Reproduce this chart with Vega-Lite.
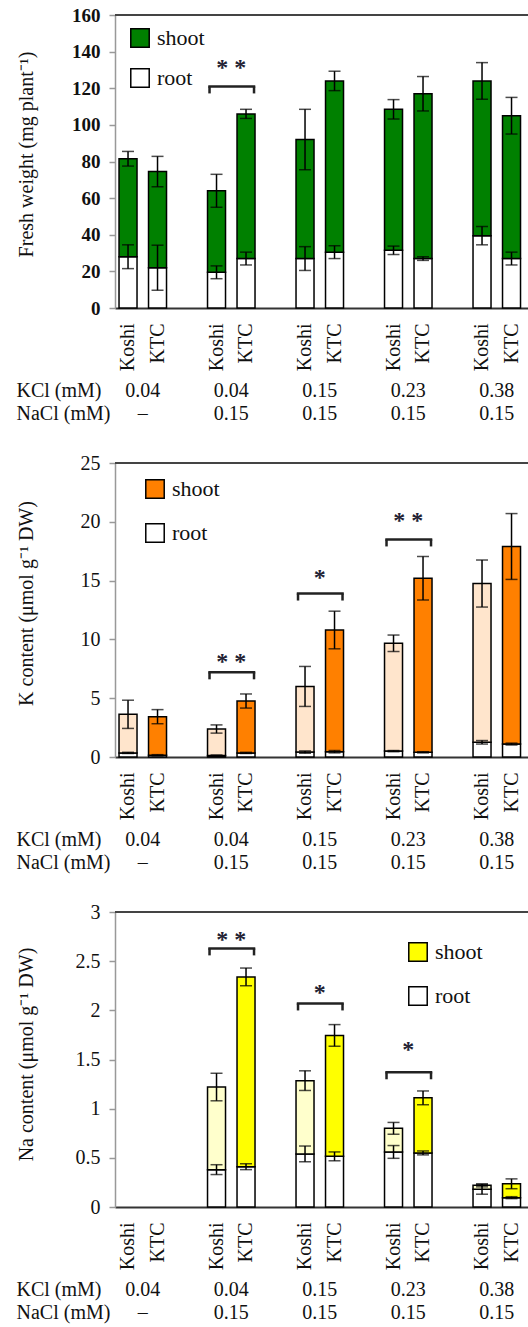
{
  "$schema": "https://vega.github.io/schema/vega-lite/v6.json",
  "padding": {"left": 15, "top": 5, "right": 0, "bottom": 0},
  "background": "white",
  "datasets": {
    "bars": [
      {"p": "fw", "slot": "K1", "cult": "Koshi", "part": "root", "lo": 0, "hi": 28, "err": 6.5},
      {"p": "fw", "slot": "K1", "cult": "Koshi", "part": "shoot", "lo": 28, "hi": 81.5, "err": 4},
      {"p": "fw", "slot": "T1", "cult": "KTC", "part": "root", "lo": 0, "hi": 22, "err": 12.3},
      {"p": "fw", "slot": "T1", "cult": "KTC", "part": "shoot", "lo": 22, "hi": 74.5, "err": 8.3},
      {"p": "fw", "slot": "K2", "cult": "Koshi", "part": "root", "lo": 0, "hi": 19.5, "err": 3.5},
      {"p": "fw", "slot": "K2", "cult": "Koshi", "part": "shoot", "lo": 19.5, "hi": 64, "err": 9},
      {"p": "fw", "slot": "T2", "cult": "KTC", "part": "root", "lo": 0, "hi": 27, "err": 3.5},
      {"p": "fw", "slot": "T2", "cult": "KTC", "part": "shoot", "lo": 27, "hi": 106, "err": 2.5},
      {"p": "fw", "slot": "K3", "cult": "Koshi", "part": "root", "lo": 0, "hi": 27, "err": 6.5},
      {"p": "fw", "slot": "K3", "cult": "Koshi", "part": "shoot", "lo": 27, "hi": 92, "err": 16.5},
      {"p": "fw", "slot": "T3", "cult": "KTC", "part": "root", "lo": 0, "hi": 30.5, "err": 3.5},
      {"p": "fw", "slot": "T3", "cult": "KTC", "part": "shoot", "lo": 30.5, "hi": 124, "err": 5.3},
      {"p": "fw", "slot": "K4", "cult": "Koshi", "part": "root", "lo": 0, "hi": 31.5, "err": 2.3},
      {"p": "fw", "slot": "K4", "cult": "Koshi", "part": "shoot", "lo": 31.5, "hi": 108.5, "err": 5.3},
      {"p": "fw", "slot": "T4", "cult": "KTC", "part": "root", "lo": 0, "hi": 27, "err": 1},
      {"p": "fw", "slot": "T4", "cult": "KTC", "part": "shoot", "lo": 27, "hi": 117, "err": 9.4},
      {"p": "fw", "slot": "K5", "cult": "Koshi", "part": "root", "lo": 0, "hi": 39.5, "err": 5},
      {"p": "fw", "slot": "K5", "cult": "Koshi", "part": "shoot", "lo": 39.5, "hi": 124, "err": 10},
      {"p": "fw", "slot": "T5", "cult": "KTC", "part": "root", "lo": 0, "hi": 27, "err": 3.5},
      {"p": "fw", "slot": "T5", "cult": "KTC", "part": "shoot", "lo": 27, "hi": 105, "err": 10},

      {"p": "K", "slot": "K1", "cult": "Koshi", "part": "root", "lo": 0, "hi": 0.35, "err": 0.05},
      {"p": "K", "slot": "K1", "cult": "Koshi", "part": "shoot", "lo": 0.35, "hi": 3.63, "err": 1.2},
      {"p": "K", "slot": "T1", "cult": "KTC", "part": "root", "lo": 0, "hi": 0.15, "err": 0.05},
      {"p": "K", "slot": "T1", "cult": "KTC", "part": "shoot", "lo": 0.15, "hi": 3.43, "err": 0.6},
      {"p": "K", "slot": "K2", "cult": "Koshi", "part": "root", "lo": 0, "hi": 0.12, "err": 0.05},
      {"p": "K", "slot": "K2", "cult": "Koshi", "part": "shoot", "lo": 0.12, "hi": 2.38, "err": 0.35},
      {"p": "K", "slot": "T2", "cult": "KTC", "part": "root", "lo": 0, "hi": 0.35, "err": 0.05},
      {"p": "K", "slot": "T2", "cult": "KTC", "part": "shoot", "lo": 0.35, "hi": 4.76, "err": 0.6},
      {"p": "K", "slot": "K3", "cult": "Koshi", "part": "root", "lo": 0, "hi": 0.42, "err": 0.1},
      {"p": "K", "slot": "K3", "cult": "Koshi", "part": "shoot", "lo": 0.42, "hi": 6.0, "err": 1.7},
      {"p": "K", "slot": "T3", "cult": "KTC", "part": "root", "lo": 0, "hi": 0.45, "err": 0.1},
      {"p": "K", "slot": "T3", "cult": "KTC", "part": "shoot", "lo": 0.45, "hi": 10.8, "err": 1.6},
      {"p": "K", "slot": "K4", "cult": "Koshi", "part": "root", "lo": 0, "hi": 0.5, "err": 0.05},
      {"p": "K", "slot": "K4", "cult": "Koshi", "part": "shoot", "lo": 0.5, "hi": 9.67, "err": 0.7},
      {"p": "K", "slot": "T4", "cult": "KTC", "part": "root", "lo": 0, "hi": 0.4, "err": 0.05},
      {"p": "K", "slot": "T4", "cult": "KTC", "part": "shoot", "lo": 0.4, "hi": 15.2, "err": 1.85},
      {"p": "K", "slot": "K5", "cult": "Koshi", "part": "root", "lo": 0, "hi": 1.25, "err": 0.15},
      {"p": "K", "slot": "K5", "cult": "Koshi", "part": "shoot", "lo": 1.25, "hi": 14.75, "err": 2.0},
      {"p": "K", "slot": "T5", "cult": "KTC", "part": "root", "lo": 0, "hi": 1.1, "err": 0.08},
      {"p": "K", "slot": "T5", "cult": "KTC", "part": "shoot", "lo": 1.1, "hi": 17.9, "err": 2.8},

      {"p": "Na", "slot": "K2", "cult": "Koshi", "part": "root", "lo": 0, "hi": 0.38, "err": 0.05},
      {"p": "Na", "slot": "K2", "cult": "Koshi", "part": "shoot", "lo": 0.38, "hi": 1.22, "err": 0.14},
      {"p": "Na", "slot": "T2", "cult": "KTC", "part": "root", "lo": 0, "hi": 0.41, "err": 0.03},
      {"p": "Na", "slot": "T2", "cult": "KTC", "part": "shoot", "lo": 0.41, "hi": 2.34, "err": 0.09},
      {"p": "Na", "slot": "K3", "cult": "Koshi", "part": "root", "lo": 0, "hi": 0.54, "err": 0.08},
      {"p": "Na", "slot": "K3", "cult": "Koshi", "part": "shoot", "lo": 0.54, "hi": 1.285, "err": 0.1},
      {"p": "Na", "slot": "T3", "cult": "KTC", "part": "root", "lo": 0, "hi": 0.515, "err": 0.045},
      {"p": "Na", "slot": "T3", "cult": "KTC", "part": "shoot", "lo": 0.515, "hi": 1.745, "err": 0.11},
      {"p": "Na", "slot": "K4", "cult": "Koshi", "part": "root", "lo": 0, "hi": 0.56, "err": 0.065},
      {"p": "Na", "slot": "K4", "cult": "Koshi", "part": "shoot", "lo": 0.56, "hi": 0.8, "err": 0.06},
      {"p": "Na", "slot": "T4", "cult": "KTC", "part": "root", "lo": 0, "hi": 0.55, "err": 0.02},
      {"p": "Na", "slot": "T4", "cult": "KTC", "part": "shoot", "lo": 0.55, "hi": 1.11, "err": 0.07},
      {"p": "Na", "slot": "K5", "cult": "Koshi", "part": "root", "lo": 0, "hi": 0.18, "err": 0.05},
      {"p": "Na", "slot": "K5", "cult": "Koshi", "part": "shoot", "lo": 0.18, "hi": 0.22, "err": 0.015},
      {"p": "Na", "slot": "T5", "cult": "KTC", "part": "root", "lo": 0, "hi": 0.095, "err": 0.01},
      {"p": "Na", "slot": "T5", "cult": "KTC", "part": "shoot", "lo": 0.095, "hi": 0.236, "err": 0.05}
    ],
    "sig": [
      {"p": "fw", "k": "K2", "t": "T2", "b": 121, "s": 127, "lab": "* *"},
      {"p": "K", "k": "K2", "t": "T2", "b": 7.2, "s": 7.5, "lab": "* *"},
      {"p": "K", "k": "K3", "t": "T3", "b": 13.9, "s": 14.6, "lab": "*"},
      {"p": "K", "k": "K4", "t": "T4", "b": 18.5, "s": 19.5, "lab": "* *"},
      {"p": "Na", "k": "K2", "t": "T2", "b": 2.63, "s": 2.645, "lab": "* *"},
      {"p": "Na", "k": "K3", "t": "T3", "b": 2.07, "s": 2.11, "lab": "*"},
      {"p": "Na", "k": "K4", "t": "T4", "b": 1.37, "s": 1.53, "lab": "*"}
    ],
    "cond": [
      {"slot": "K1", "row": "KCl (mM)", "val": "0.04"},
      {"slot": "K2", "row": "KCl (mM)", "val": "0.04"},
      {"slot": "K3", "row": "KCl (mM)", "val": "0.15"},
      {"slot": "K4", "row": "KCl (mM)", "val": "0.23"},
      {"slot": "K5", "row": "KCl (mM)", "val": "0.38"},
      {"slot": "K1", "row": "NaCl (mM)", "val": "–"},
      {"slot": "K2", "row": "NaCl (mM)", "val": "0.15"},
      {"slot": "K3", "row": "NaCl (mM)", "val": "0.15"},
      {"slot": "K4", "row": "NaCl (mM)", "val": "0.15"},
      {"slot": "K5", "row": "NaCl (mM)", "val": "0.15"}
    ],
    "one": [{"a": 1}]
  },
  "spacing": 27,
  "resolve": {"scale": {"fill": "independent"}, "legend": {"fill": "independent"}},
  "vconcat": [
    {
      "spacing": 7,
      "resolve": {"scale": {"fill": "independent"}, "legend": {"fill": "independent"}},
      "vconcat": [
        {
          "width": 413,
          "height": 293,
          "layer": [
            {
              "data": {"name": "bars"},
              "transform": [{"filter": "datum.p === 'fw'"}],
              "mark": {"type": "bar", "stroke": "black", "strokeWidth": 1.5},
              "encoding": {
                "x": {"field": "slot", "type": "nominal",
                  "scale": {"type": "band", "domain": ["K1","T1","g1","K2","T2","g2","K3","T3","g3","K4","T4","g4","K5","T5"], "paddingInner": 0.39, "paddingOuter": 0.195, "align": 0.35},
                  "axis": {"values": ["K1","T1","K2","T2","K3","T3","K4","T4","K5","T5"], "labelExpr": "substring(datum.value,0,1) === 'K' ? 'Koshi' : 'KTC'", "labelAngle": -90, "labelPadding": 15, "ticks": false, "domainColor": "#333", "domainWidth": 2, "title": null}},
                "y": {"field": "hi", "type": "quantitative", "title": "Fresh weight (mg plant⁻¹)",
                  "scale": {"domain": [0, 160], "nice": false},
                  "axis": {"values": [0,20,40,60,80,100,120,140,160], "tickCount": 12, "labelOverlap": false, "labelFontSize": 19, "labelFontWeight": "bold", "titleX": -89, "titleY": 139, "titleBaseline": "middle", "titleAngle": -90}},
                "y2": {"field": "lo"},
                "fill": {"field": "part", "type": "nominal",
                  "scale": {"domain": ["shoot", "root"], "range": ["#008000", "#ffffff"]},
                  "legend": {"title": null, "orient": "none", "legendX": 14, "legendY": 12, "rowPadding": 14}}
              }
            },
            {
              "data": {"name": "bars"},
              "transform": [{"filter": "datum.p === 'fw'"}],
              "mark": {"type": "errorbar", "ticks": true, "size": 12, "thickness": 1.5, "color": "black"},
              "encoding": {
                "x": {"field": "slot", "type": "nominal"},
                "y": {"field": "hi", "type": "quantitative", "title": "Fresh weight (mg plant⁻¹)"},
                "yError": {"field": "err"}
              }
            },
            {
              "data": {"name": "sig"},
              "transform": [{"filter": "datum.p === 'fw'"}],
              "mark": {"type": "rule", "color": "#222", "strokeWidth": 2.5, "xOffset": -7, "x2Offset": 8, "strokeCap": "square"},
              "encoding": {"x": {"field": "k", "type": "nominal"}, "x2": {"field": "t"}, "y": {"field": "b", "type": "quantitative", "title": "Fresh weight (mg plant⁻¹)"}}
            },
            {
              "data": {"name": "sig"},
              "transform": [{"filter": "datum.p === 'fw'"}],
              "mark": {"type": "rule", "color": "#222", "strokeWidth": 2.5, "xOffset": -7, "y2Offset": 7},
              "encoding": {"x": {"field": "k", "type": "nominal"}, "y": {"field": "b", "type": "quantitative", "title": "Fresh weight (mg plant⁻¹)"}, "y2": {"field": "b"}}
            },
            {
              "data": {"name": "sig"},
              "transform": [{"filter": "datum.p === 'fw'"}],
              "mark": {"type": "rule", "color": "#222", "strokeWidth": 2.5, "xOffset": 8, "y2Offset": 7},
              "encoding": {"x": {"field": "t", "type": "nominal"}, "y": {"field": "b", "type": "quantitative", "title": "Fresh weight (mg plant⁻¹)"}, "y2": {"field": "b"}}
            },
            {
              "data": {"name": "sig"},
              "transform": [{"filter": "datum.p === 'fw'"}],
              "mark": {"type": "text", "fontSize": 24, "fontWeight": "bold", "dx": 14.75, "baseline": "alphabetic", "color": "#223"},
              "encoding": {"x": {"field": "k", "type": "nominal"}, "y": {"field": "s", "type": "quantitative", "title": "Fresh weight (mg plant⁻¹)"}, "text": {"field": "lab"}}
            },
            {
              "data": {"name": "one"},
              "mark": {"type": "rule", "color": "#444", "strokeWidth": 2},
              "encoding": {"y": {"datum": 160}}
            }
          ]
        },
        {
          "data": {"name": "cond"},
          "width": 413,
          "height": 46,
          "view": {"stroke": null},
          "mark": {"type": "text", "fontSize": 20, "dx": 14.75, "color": "#111"},
          "encoding": {
            "x": {"field": "slot", "type": "nominal", "scale": {"type": "band", "domain": ["K1","T1","g1","K2","T2","g2","K3","T3","g3","K4","T4","g4","K5","T5"], "paddingInner": 0.39, "paddingOuter": 0.195, "align": 0.35}, "axis": null},
            "y": {"field": "row", "type": "nominal", "scale": {"type": "point", "domain": ["KCl (mM)", "NaCl (mM)"], "padding": 0.5},
              "axis": {"title": null, "labelAlign": "left", "labelPadding": 99, "ticks": false, "tickSize": 0, "domain": false}},
            "text": {"field": "val"}
          }
        }
      ]
    },
    {
      "spacing": 7,
      "resolve": {"scale": {"fill": "independent"}, "legend": {"fill": "independent"}},
      "vconcat": [
        {
          "width": 413,
          "height": 294,
          "layer": [
            {
              "data": {"name": "bars"},
              "transform": [{"filter": "datum.p === 'K'"}],
              "mark": {"type": "bar", "stroke": "black", "strokeWidth": 1.5},
              "encoding": {
                "x": {"field": "slot", "type": "nominal",
                  "scale": {"type": "band", "domain": ["K1","T1","g1","K2","T2","g2","K3","T3","g3","K4","T4","g4","K5","T5"], "paddingInner": 0.39, "paddingOuter": 0.195, "align": 0.35},
                  "axis": {"values": ["K1","T1","K2","T2","K3","T3","K4","T4","K5","T5"], "labelExpr": "substring(datum.value,0,1) === 'K' ? 'Koshi' : 'KTC'", "labelAngle": -90, "labelPadding": 15, "ticks": false, "domainColor": "#333", "domainWidth": 2, "title": null}},
                "y": {"field": "hi", "type": "quantitative", "title": "K content (μmol g⁻¹ DW)",
                  "scale": {"domain": [0, 25], "nice": false},
                  "axis": {"values": [0,5,10,15,20,25], "tickCount": 12, "labelOverlap": false, "titleX": -89, "titleY": 140, "titleBaseline": "middle", "titleAngle": -90}},
                "y2": {"field": "lo"},
                "fill": {
                  "condition": {"test": "datum.cult === 'Koshi' && datum.part === 'shoot'", "value": "#FFE5CC"},
                  "field": "part", "type": "nominal",
                  "scale": {"domain": ["shoot", "root"], "range": ["#FF8000", "#ffffff"]},
                  "legend": {"title": null, "orient": "none", "legendX": 29, "legendY": 15, "rowPadding": 18}}
              }
            },
            {
              "data": {"name": "bars"},
              "transform": [{"filter": "datum.p === 'K'"}],
              "mark": {"type": "errorbar", "ticks": true, "size": 12, "thickness": 1.5, "color": "black"},
              "encoding": {
                "x": {"field": "slot", "type": "nominal"},
                "y": {"field": "hi", "type": "quantitative", "title": "K content (μmol g⁻¹ DW)"},
                "yError": {"field": "err"}
              }
            },
            {
              "data": {"name": "sig"},
              "transform": [{"filter": "datum.p === 'K'"}],
              "mark": {"type": "rule", "color": "#222", "strokeWidth": 2.5, "xOffset": -7, "x2Offset": 8, "strokeCap": "square"},
              "encoding": {"x": {"field": "k", "type": "nominal"}, "x2": {"field": "t"}, "y": {"field": "b", "type": "quantitative", "title": "K content (μmol g⁻¹ DW)"}}
            },
            {
              "data": {"name": "sig"},
              "transform": [{"filter": "datum.p === 'K'"}],
              "mark": {"type": "rule", "color": "#222", "strokeWidth": 2.5, "xOffset": -7, "y2Offset": 7},
              "encoding": {"x": {"field": "k", "type": "nominal"}, "y": {"field": "b", "type": "quantitative", "title": "K content (μmol g⁻¹ DW)"}, "y2": {"field": "b"}}
            },
            {
              "data": {"name": "sig"},
              "transform": [{"filter": "datum.p === 'K'"}],
              "mark": {"type": "rule", "color": "#222", "strokeWidth": 2.5, "xOffset": 8, "y2Offset": 7},
              "encoding": {"x": {"field": "t", "type": "nominal"}, "y": {"field": "b", "type": "quantitative", "title": "K content (μmol g⁻¹ DW)"}, "y2": {"field": "b"}}
            },
            {
              "data": {"name": "sig"},
              "transform": [{"filter": "datum.p === 'K'"}],
              "mark": {"type": "text", "fontSize": 24, "fontWeight": "bold", "dx": 14.75, "baseline": "alphabetic", "color": "#223"},
              "encoding": {"x": {"field": "k", "type": "nominal"}, "y": {"field": "s", "type": "quantitative", "title": "K content (μmol g⁻¹ DW)"}, "text": {"field": "lab"}}
            },
            {
              "data": {"name": "one"},
              "mark": {"type": "rule", "color": "#444", "strokeWidth": 2},
              "encoding": {"y": {"datum": 25}}
            }
          ]
        },
        {
          "data": {"name": "cond"},
          "width": 413,
          "height": 46,
          "view": {"stroke": null},
          "mark": {"type": "text", "fontSize": 20, "dx": 14.75, "color": "#111"},
          "encoding": {
            "x": {"field": "slot", "type": "nominal", "scale": {"type": "band", "domain": ["K1","T1","g1","K2","T2","g2","K3","T3","g3","K4","T4","g4","K5","T5"], "paddingInner": 0.39, "paddingOuter": 0.195, "align": 0.35}, "axis": null},
            "y": {"field": "row", "type": "nominal", "scale": {"type": "point", "domain": ["KCl (mM)", "NaCl (mM)"], "padding": 0.5},
              "axis": {"title": null, "labelAlign": "left", "labelPadding": 99, "ticks": false, "tickSize": 0, "domain": false}},
            "text": {"field": "val"}
          }
        }
      ]
    },
    {
      "spacing": 7,
      "resolve": {"scale": {"fill": "independent"}, "legend": {"fill": "independent"}},
      "vconcat": [
        {
          "width": 413,
          "height": 295,
          "layer": [
            {
              "data": {"name": "bars"},
              "transform": [{"filter": "datum.p === 'Na'"}],
              "mark": {"type": "bar", "stroke": "black", "strokeWidth": 1.5},
              "encoding": {
                "x": {"field": "slot", "type": "nominal",
                  "scale": {"type": "band", "domain": ["K1","T1","g1","K2","T2","g2","K3","T3","g3","K4","T4","g4","K5","T5"], "paddingInner": 0.39, "paddingOuter": 0.195, "align": 0.35},
                  "axis": {"values": ["K1","T1","K2","T2","K3","T3","K4","T4","K5","T5"], "labelExpr": "substring(datum.value,0,1) === 'K' ? 'Koshi' : 'KTC'", "labelAngle": -90, "labelPadding": 15, "ticks": false, "domainColor": "#333", "domainWidth": 2, "title": null}},
                "y": {"field": "hi", "type": "quantitative", "title": "Na content (μmol g⁻¹ DW)",
                  "scale": {"domain": [0, 3], "nice": false},
                  "axis": {"values": [0,0.5,1,1.5,2,2.5,3], "tickCount": 12, "format": "~g", "labelOverlap": false, "titleX": -89, "titleY": 142, "titleBaseline": "middle", "titleAngle": -90}},
                "y2": {"field": "lo"},
                "fill": {
                  "condition": {"test": "datum.cult === 'Koshi' && datum.part === 'shoot'", "value": "#FFFFCC"},
                  "field": "part", "type": "nominal",
                  "scale": {"domain": ["shoot", "root"], "range": ["#FFFF00", "#ffffff"]},
                  "legend": {"title": null, "orient": "none", "legendX": 292, "legendY": 29, "rowPadding": 18}}
              }
            },
            {
              "data": {"name": "bars"},
              "transform": [{"filter": "datum.p === 'Na'"}],
              "mark": {"type": "errorbar", "ticks": true, "size": 12, "thickness": 1.5, "color": "black"},
              "encoding": {
                "x": {"field": "slot", "type": "nominal"},
                "y": {"field": "hi", "type": "quantitative", "title": "Na content (μmol g⁻¹ DW)"},
                "yError": {"field": "err"}
              }
            },
            {
              "data": {"name": "sig"},
              "transform": [{"filter": "datum.p === 'Na'"}],
              "mark": {"type": "rule", "color": "#222", "strokeWidth": 2.5, "xOffset": -7, "x2Offset": 8, "strokeCap": "square"},
              "encoding": {"x": {"field": "k", "type": "nominal"}, "x2": {"field": "t"}, "y": {"field": "b", "type": "quantitative", "title": "Na content (μmol g⁻¹ DW)"}}
            },
            {
              "data": {"name": "sig"},
              "transform": [{"filter": "datum.p === 'Na'"}],
              "mark": {"type": "rule", "color": "#222", "strokeWidth": 2.5, "xOffset": -7, "y2Offset": 7},
              "encoding": {"x": {"field": "k", "type": "nominal"}, "y": {"field": "b", "type": "quantitative", "title": "Na content (μmol g⁻¹ DW)"}, "y2": {"field": "b"}}
            },
            {
              "data": {"name": "sig"},
              "transform": [{"filter": "datum.p === 'Na'"}],
              "mark": {"type": "rule", "color": "#222", "strokeWidth": 2.5, "xOffset": 8, "y2Offset": 7},
              "encoding": {"x": {"field": "t", "type": "nominal"}, "y": {"field": "b", "type": "quantitative", "title": "Na content (μmol g⁻¹ DW)"}, "y2": {"field": "b"}}
            },
            {
              "data": {"name": "sig"},
              "transform": [{"filter": "datum.p === 'Na'"}],
              "mark": {"type": "text", "fontSize": 24, "fontWeight": "bold", "dx": 14.75, "baseline": "alphabetic", "color": "#223"},
              "encoding": {"x": {"field": "k", "type": "nominal"}, "y": {"field": "s", "type": "quantitative", "title": "Na content (μmol g⁻¹ DW)"}, "text": {"field": "lab"}}
            },
            {
              "data": {"name": "one"},
              "mark": {"type": "rule", "color": "#444", "strokeWidth": 2},
              "encoding": {"y": {"datum": 3}}
            }
          ]
        },
        {
          "data": {"name": "cond"},
          "width": 413,
          "height": 46,
          "view": {"stroke": null},
          "mark": {"type": "text", "fontSize": 20, "dx": 14.75, "color": "#111"},
          "encoding": {
            "x": {"field": "slot", "type": "nominal", "scale": {"type": "band", "domain": ["K1","T1","g1","K2","T2","g2","K3","T3","g3","K4","T4","g4","K5","T5"], "paddingInner": 0.39, "paddingOuter": 0.195, "align": 0.35}, "axis": null},
            "y": {"field": "row", "type": "nominal", "scale": {"type": "point", "domain": ["KCl (mM)", "NaCl (mM)"], "padding": 0.5},
              "axis": {"title": null, "labelAlign": "left", "labelPadding": 99, "ticks": false, "tickSize": 0, "domain": false}},
            "text": {"field": "val"}
          }
        }
      ]
    }
  ],
  "config": {
    "font": "Liberation Serif",
    "view": {"stroke": "#bbb"},
    "axis": {"labelFont": "Liberation Serif", "titleFont": "Liberation Serif", "labelColor": "#111", "titleColor": "#111", "grid": false, "labelFontSize": 20, "titleFontSize": 20, "titleFontWeight": "normal", "labelOverlap": false},
    "axisY": {"domainColor": "#999", "domainWidth": 1.5, "tickColor": "#999", "tickSize": 6, "tickWidth": 1.5, "labelPadding": 9, "labelOverlap": false},
    "legend": {"symbolType": "square", "symbolSize": 340, "symbolStrokeColor": "black", "symbolStrokeWidth": 1.5, "symbolOpacity": 1, "labelFont": "Liberation Serif", "labelFontSize": 22, "labelColor": "#111", "labelOffset": 6, "padding": 0},
    "text": {"font": "Liberation Serif"}
  }
}
